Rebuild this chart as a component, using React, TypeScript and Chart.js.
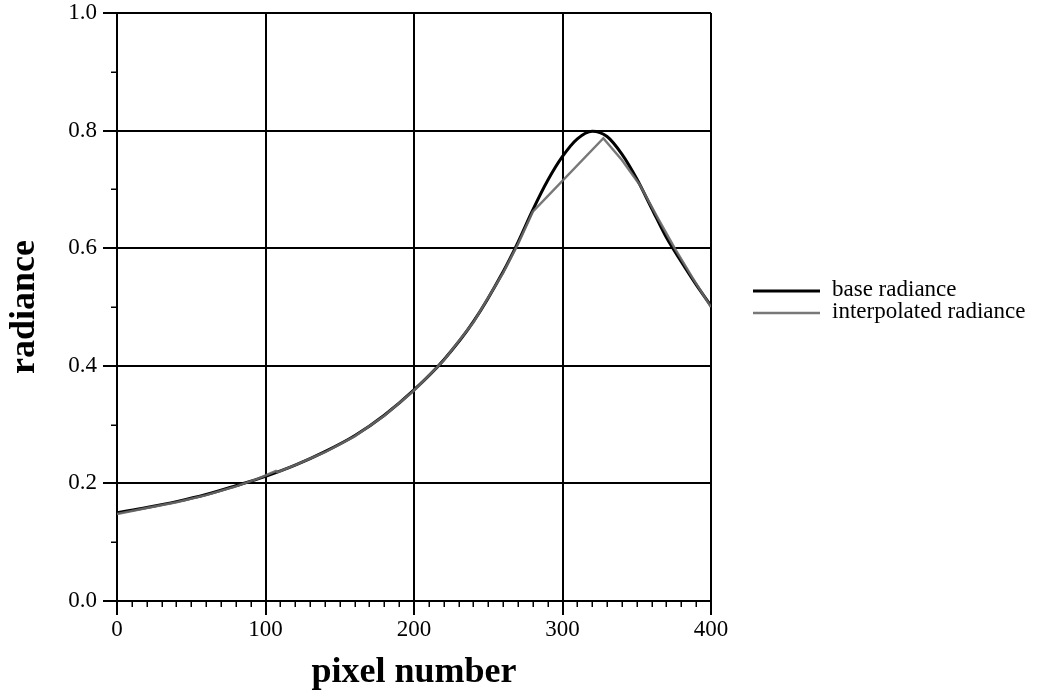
import { useEffect, useRef } from 'react';
import { Chart, registerables } from 'chart.js';

Chart.register(...registerables);

const FONT = "'Liberation Serif', 'Times New Roman', serif";

// base radiance
const basePixels = [0, 20, 40, 60, 80, 100, 120, 140, 160, 180, 200, 220, 240, 260, 270, 280, 290, 300, 310, 320, 330, 340, 350, 360, 370, 380, 390, 400];
const baseRadiance = [0.150, 0.159, 0.169, 0.181, 0.196, 0.212, 0.231, 0.254, 0.281, 0.316, 0.359, 0.410, 0.475, 0.560, 0.610, 0.665, 0.715, 0.756, 0.786, 0.799, 0.790, 0.760, 0.718, 0.668, 0.618, 0.577, 0.538, 0.502];

// interpolated radiance
const interpPixels = [0, 20, 40, 60, 80, 95, 107, 108, 120, 140, 160, 180, 200, 220, 240, 260, 270, 280, 327.5, 340, 352, 364, 376, 388, 400];
const interpRadiance = [0.148, 0.158, 0.168, 0.180, 0.195, 0.208, 0.221, 0.219, 0.231, 0.253, 0.280, 0.315, 0.358, 0.409, 0.474, 0.558, 0.607, 0.662, 0.787, 0.750, 0.708, 0.652, 0.598, 0.548, 0.500];

const seriesLabels = ['base radiance', 'interpolated radiance'];
const xTitle = 'pixel number';
const yTitle = 'radiance';
const xMinorStep = 10;
const yMinorStep = 0.1;

const minorTicksPlugin = {
  id: 'minorTicks',
  afterDraw(chart: any) {
    const { ctx, scales, chartArea } = chart;
    const xs = scales.x;
    const ys = scales.y;
    ctx.save();
    ctx.strokeStyle = '#000';
    ctx.lineWidth = 1.5;
    for (let v = xs.min + xMinorStep; v < xs.max; v += xMinorStep) {
      if (Math.abs(v / 100 - Math.round(v / 100)) < 1e-6) continue;
      const px = Math.round(xs.getPixelForValue(v)) + 0.25;
      ctx.beginPath();
      ctx.moveTo(px, chartArea.bottom);
      ctx.lineTo(px, chartArea.bottom + 6);
      ctx.stroke();
    }
    for (let v = ys.min + yMinorStep; v < ys.max; v += 2 * yMinorStep) {
      const py = Math.round(ys.getPixelForValue(v)) + 0.25;
      ctx.beginPath();
      ctx.moveTo(chartArea.left - 6, py);
      ctx.lineTo(chartArea.left, py);
      ctx.stroke();
    }
    ctx.restore();
  },
};

const legendPlugin = {
  id: 'customLegend',
  afterDraw(chart: any) {
    const { ctx } = chart;
    ctx.save();
    const x0 = 753;
    const x1 = 820;
    const tx = 832;
    const rows = [291, 313];
    chart.data.datasets.forEach((ds: any, i: number) => {
      const y = rows[i];
      ctx.strokeStyle = ds.borderColor;
      ctx.lineWidth = ds.borderWidth;
      ctx.setLineDash(ds.borderDash || []);
      ctx.beginPath();
      ctx.moveTo(x0, y);
      ctx.lineTo(x1, y);
      ctx.stroke();
      ctx.setLineDash([]);
      ctx.fillStyle = '#000';
      ctx.font = `23px ${FONT}`;
      ctx.textBaseline = 'middle';
      ctx.textAlign = 'left';
      ctx.fillText(ds.label, tx, y - 1);
    });
    ctx.restore();
  },
};

export default function App() {
  const canvasRef = useRef<HTMLCanvasElement | null>(null);

  useEffect(() => {
    const canvas = canvasRef.current;
    if (!canvas) return;
    const chart = new Chart(canvas, {
      type: 'line',
      data: {
        datasets: [
          {
            label: seriesLabels[0],
            data: basePixels.map((x, i) => ({ x, y: baseRadiance[i] })),
            borderColor: '#000000',
            borderWidth: 3,
            pointRadius: 0,
            cubicInterpolationMode: 'monotone',
            fill: false,
            order: 2,
          },
          {
            label: seriesLabels[1],
            data: interpPixels.map((x, i) => ({ x, y: interpRadiance[i] })),
            borderColor: 'rgba(105,105,105,0.9)',
            borderWidth: 2.5,
            pointRadius: 0,
            tension: 0,
            fill: false,
            order: 1,
          },
        ],
      },
      options: {
        responsive: false,
        animation: false,
        events: [],
        layout: { padding: { top: 13, right: 333, bottom: 0, left: 0 } },
        plugins: {
          legend: { display: false },
          tooltip: { enabled: false },
        },
        scales: {
          x: {
            type: 'linear',
            min: 0,
            max: 400,
            ticks: {
              stepSize: 100,
              color: '#000',
              font: { family: FONT, size: 23 },
              padding: 1,
              maxRotation: 0,
              callback: (v: any) => String(v),
            },
            grid: { color: '#000', lineWidth: 2, tickLength: 14 },
            border: { color: '#000', width: 2 },
            title: {
              display: true,
              text: xTitle,
              color: '#000',
              font: { family: FONT, size: 36, weight: 'bold', lineHeight: 1 },
              padding: { top: 0, bottom: 1 },
            },
            afterFit: (scale: any) => {
              scale.height = 91;
            },
          },
          y: {
            type: 'linear',
            min: 0,
            max: 1,
            ticks: {
              stepSize: 0.2,
              color: '#000',
              font: { family: FONT, size: 23 },
              padding: 6,
              callback: (v: any) => Number(v).toFixed(1),
            },
            grid: { color: '#000', lineWidth: 2, tickLength: 14 },
            border: { color: '#000', width: 2 },
            title: {
              display: true,
              text: yTitle,
              color: '#000',
              font: { family: FONT, size: 36, weight: 'bold', lineHeight: 1 },
              padding: { top: 7, bottom: 0 },
            },
            afterFit: (scale: any) => {
              scale.width = 117;
              scale.paddingTop = 0;
              scale.paddingBottom = 0;
            },
          },
        },
      },
      plugins: [minorTicksPlugin, legendPlugin],
    });
    return () => chart.destroy();
  }, []);

  return (
    <div style={{ position: 'fixed', left: 0, top: 0, width: 1044, height: 692, background: '#fff' }}>
      <canvas ref={canvasRef} width={1044} height={692} style={{ display: 'block' }} />
    </div>
  );
}
